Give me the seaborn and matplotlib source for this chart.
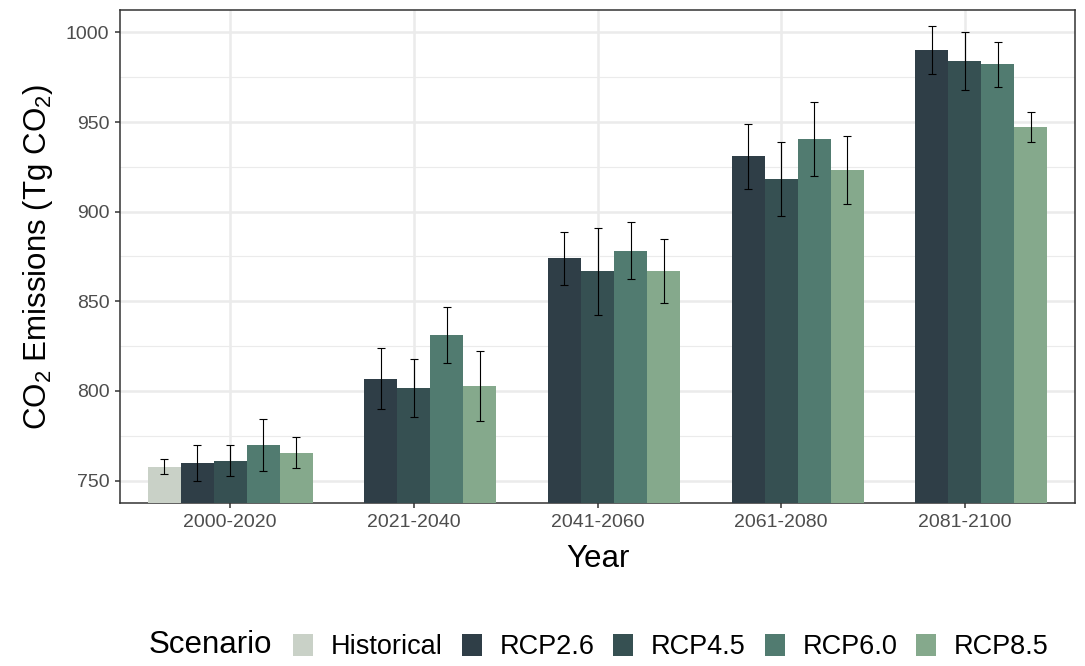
import numpy as np
import pandas as pd
import seaborn as sns
from matplotlib import pyplot as plt
from matplotlib.patches import Patch

## Data
periods = ["2000-2020", "2021-2040", "2041-2060", "2061-2080", "2081-2100"]
scenarios = ["Historical", "RCP2.6", "RCP4.5", "RCP6.0", "RCP8.5"]
colors = ["#c9d1c7", "#2f3e47", "#365052", "#517b70", "#85a98c"]

hist_mean = [757.8]
hist_err = [4.2]
rcp26_mean = [760.0, 806.7, 873.9, 930.9, 990.0]
rcp26_err = [10.0, 17.0, 15.0, 18.0, 13.3]
rcp45_mean = [761.1, 801.6, 866.7, 918.3, 983.9]
rcp45_err = [8.6, 16.1, 24.4, 20.5, 16.1]
rcp60_mean = [770.0, 831.1, 878.3, 940.6, 982.2]
rcp60_err = [14.4, 15.5, 16.1, 20.5, 12.5]
rcp85_mean = [765.6, 802.8, 866.7, 923.3, 947.2]
rcp85_err = [8.6, 19.7, 17.8, 18.9, 8.3]

# long table for seaborn
rows = [("2000-2020", "Historical", hist_mean[0], hist_err[0])]
for name, m, e in [("RCP2.6", rcp26_mean, rcp26_err), ("RCP4.5", rcp45_mean, rcp45_err),
                   ("RCP6.0", rcp60_mean, rcp60_err), ("RCP8.5", rcp85_mean, rcp85_err)]:
    for p, v, s in zip(periods, m, e):
        rows.append((p, name, v, s))
data = pd.DataFrame(rows, columns=["Year", "Scenario", "CO2", "SD"])

## Styling (ggplot theme_bw look)
sns.set_style("white")
plt.rcParams['font.family'] = ['Liberation Sans', 'DejaVu Sans']
plt.rcParams['mathtext.default'] = 'regular'

fig = plt.figure(figsize=(10.85, 6.66), dpi=100)
ax = fig.add_axes([120/1085, 1 - 503/666, (1075 - 120)/1085, (503 - 10)/666])

sns.barplot(data=data, x="Year", y="CO2", hue="Scenario", order=periods,
            hue_order=scenarios, palette=colors, width=0.9, errorbar=None,
            saturation=1, legend=False, ax=ax, zorder=3, linewidth=0)

# error bars placed on the bars seaborn drew
xs, ys, es = [], [], []
for p in ax.patches:
    xc = p.get_x() + p.get_width() / 2
    idx = int(round(xc))
    slot = int(round((xc - idx) / 0.18 + 2))
    row = data[(data.Year == periods[idx]) & (data.Scenario == scenarios[slot])]
    if len(row) == 0:
        continue
    xs.append(xc)
    ys.append(row.CO2.values[0])
    es.append(row.SD.values[0])
ax.errorbar(xs, ys, yerr=es, fmt="none", ecolor="black", elinewidth=0.8,
            capsize=2.6, capthick=0.8, zorder=4)

ax.set_xlim(-0.6, 4.6)
ax.set_ylim(737.5, 1012.5)
ax.set_yticks([750, 800, 850, 900, 950, 1000])
ax.set_yticks([775, 825, 875, 925, 975], minor=True)

ax.grid(which="major", axis="both", color="#ebebeb", linewidth=1.8, zorder=0)
ax.grid(which="minor", axis="y", color="#ebebeb", linewidth=0.8, zorder=0)
ax.set_axisbelow(True)
for s in ax.spines.values():
    s.set_color("#333333")
    s.set_linewidth(1.1)

ax.tick_params(which="major", direction="out", length=3.6, width=1.1, bottom=True, left=True,
               color="#333333", labelcolor="#4d4d4d", labelsize=14, pad=4)
ax.tick_params(which="minor", length=0, bottom=False, left=False)

ax.set_xlabel("Year", fontsize=22.5, labelpad=10, color="black")
ax.set_ylabel("CO$_2$ Emissions (Tg CO$_2$)", fontsize=22.5, labelpad=8, color="black")

# legend along the bottom, title on the left
handles = [Patch(facecolor=c, edgecolor="none") for c in colors]
leg = fig.legend(handles, scenarios, loc="center", bbox_to_anchor=(671/1085, 1 - 647/666),
                 ncol=5, frameon=False, fontsize=19.5, handlelength=0.74,
                 handleheight=0.85, handletextpad=0.65, columnspacing=0.7, labelcolor="black")
fig.text(149/1085, 1 - 645/666, "Scenario", fontsize=22.5, va="center", ha="left", color="black")

fig.savefig("out.png", dpi=100)
